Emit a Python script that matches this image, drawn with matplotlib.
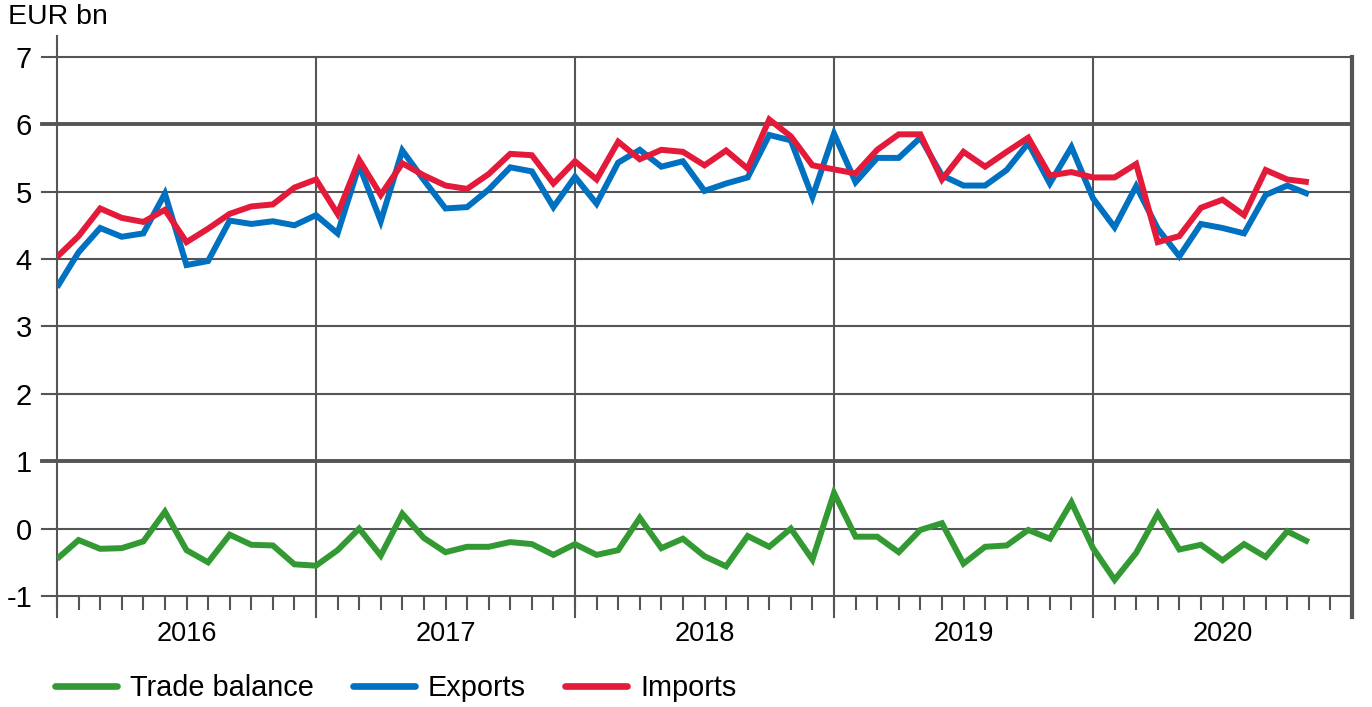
import numpy as np
import matplotlib
matplotlib.use("Agg")
import matplotlib.pyplot as plt
import matplotlib.transforms as mtransforms
from matplotlib.lines import Line2D

plt.rcParams['font.family'] = ['Liberation Sans', 'DejaVu Sans']

# monthly data, Jan 2016 - Nov 2020 (EUR bn)
exports = [3.58, 4.10, 4.46, 4.33, 4.38, 4.97, 3.91, 3.97, 4.57, 4.52, 4.56, 4.50,
           4.65, 4.38, 5.39, 4.56, 5.61, 5.17, 4.75, 4.77, 5.03, 5.36, 5.30, 4.77,
           5.22, 4.82, 5.43, 5.62, 5.37, 5.45, 5.01, 5.12, 5.21, 5.84, 5.76, 4.92,
           5.86, 5.14, 5.50, 5.50, 5.80, 5.24, 5.09, 5.09, 5.32, 5.72, 5.12, 5.66,
           4.90, 4.47, 5.08, 4.45, 4.04, 4.52, 4.46, 4.38, 4.95, 5.09, 4.96]
imports = [4.03, 4.34, 4.75, 4.61, 4.55, 4.73, 4.25, 4.45, 4.67, 4.78, 4.81, 5.06,
           5.18, 4.67, 5.47, 4.95, 5.42, 5.24, 5.09, 5.04, 5.26, 5.56, 5.54, 5.12,
           5.45, 5.18, 5.74, 5.48, 5.62, 5.59, 5.39, 5.61, 5.34, 6.07, 5.82, 5.39,
           5.33, 5.27, 5.62, 5.85, 5.85, 5.18, 5.59, 5.37, 5.59, 5.80, 5.24, 5.29,
           5.21, 5.21, 5.41, 4.25, 4.34, 4.76, 4.88, 4.65, 5.32, 5.18, 5.14]
trade_balance = [-0.45, -0.17, -0.30, -0.29, -0.19, 0.25, -0.32, -0.50, -0.09, -0.24, -0.25, -0.53,
                 -0.55, -0.32, 0.00, -0.40, 0.22, -0.14, -0.35, -0.27, -0.27, -0.20, -0.23, -0.39,
                 -0.23, -0.39, -0.32, 0.16, -0.29, -0.15, -0.41, -0.56, -0.11, -0.27, 0.00, -0.46,
                 0.53, -0.12, -0.12, -0.35, -0.02, 0.08, -0.52, -0.27, -0.25, -0.02, -0.15, 0.39,
                 -0.29, -0.76, -0.36, 0.22, -0.31, -0.24, -0.47, -0.23, -0.42, -0.04, -0.20]
years = ['2016', '2017', '2018', '2019', '2020']
y_ticks = [-1, 0, 1, 2, 3, 4, 5, 6, 7]

green = '#339a33'
blue = '#0070c0'
red = '#e31a3a'
grid_c = '#555555'

W, H = 1372, 707
fig = plt.figure(figsize=(W / 100, H / 100), dpi=100)
ax_left, ax_right, ax_top, ax_bot = 57, 1352, 36, 596
ax = fig.add_axes([ax_left / W, 1 - ax_bot / H, (ax_right - ax_left) / W, (ax_bot - ax_top) / H])

n_months = 12 * len(years)
ymax = -1 + (ax_bot - ax_top) / 67.4
ax.set_xlim(0, n_months)
ax.set_ylim(-1, ymax)
for s in ax.spines.values():
    s.set_visible(False)

# horizontal grid lines, extending left of the axis as ticks
ax_w = ax_right - ax_left
for v in y_ticks:
    lw = 2.8 if v in (1, 6) else 1.5
    ax.axhline(v, xmin=-15 / ax_w, xmax=1, color=grid_c, lw=lw, clip_on=False, zorder=1)

# vertical lines at year boundaries
ax_h = ax_bot - ax_top
ybelow = -21 / ax_h
ytop7 = 8 / (ymax + 1)
for k in range(1, len(years)):
    ax.axvline(12 * k, ymin=ybelow, ymax=ytop7, color=grid_c, lw=1.5, clip_on=False, zorder=1)
ax.axvline(0, ymin=ybelow, ymax=1, color=grid_c, lw=1.5, clip_on=False, zorder=1)
ax.axvline(n_months, ymin=ybelow, ymax=ytop7, color=grid_c, lw=3.0, clip_on=False, zorder=1)

# month ticks
ax.set_xticks(np.arange(0, n_months + 1))
ax.tick_params(axis='x', direction='out', length=10, width=1.5, color=grid_c, labelbottom=False)
ax.set_yticks(y_ticks)
ax.set_yticklabels([str(v) for v in y_ticks])
ax.tick_params(axis='y', length=0, pad=18, labelsize=21)

# year labels
trans = mtransforms.blended_transform_factory(ax.transData, ax.transAxes)
for k, yr in enumerate(years):
    ax.text(12 * k + 6, -38 / ax_h, yr, transform=trans, ha='center', va='center', fontsize=19.5)

x = np.arange(len(exports))
kw = dict(lw=4.3, solid_joinstyle='miter', solid_capstyle='butt', zorder=3)
ax.plot(x, trade_balance, color=green, **kw)
ax.plot(x, exports, color=blue, **kw)
ax.plot(x, imports, color=red, **kw)

fig.text(8 / W, 1 - 17 / H, 'EUR bn', fontsize=20.5, ha='left', va='center')

handles = [Line2D([], [], color=c, lw=4.8, solid_capstyle='round') for c in (green, blue, red)]
fig.legend(handles, ['Trade balance', 'Exports', 'Imports'], loc='center left',
           bbox_to_anchor=(55 / W, 1 - 688 / H), ncol=3, frameon=False, fontsize=20.8,
           handlelength=2.15, handletextpad=0.45, columnspacing=1.35, borderpad=0, borderaxespad=0)

fig.savefig('out.png', dpi=100)
